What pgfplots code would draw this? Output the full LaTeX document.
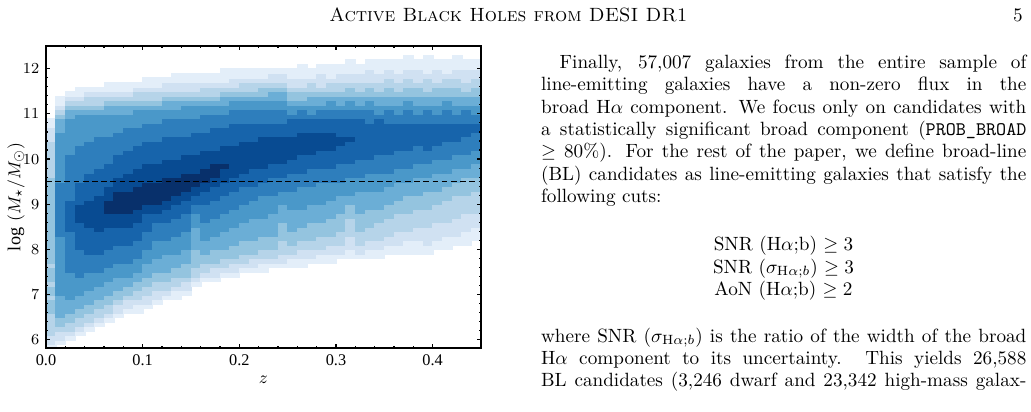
\documentclass[border=0pt]{standalone}
\usepackage{fontspec}
\usepackage{pgfplots}
\usepackage{pgfplotstable}
\pgfplotsset{compat=1.18}
\newfontfamily\plotfont{Liberation Serif}

% Binned counts (colour level 0-10) of line-emitting galaxies.
% One row per redshift bin (centre in column 0, width 0.01);
% columns 1..67 are log M bins of width 0.1 centred at 5.85, 5.95, ..., 12.45.
\pgfplotstableread[header=false]{
0.005  1 2 2 3 3 3 3 3 4 4  4 3 4 4 3 4 4 4 3 4  4 4 4 4 4 4 4 4 4 4  4 4 4 4 4 4 4 4 3 3  3 3 3 3 3 3 2 2 2 1  1 0 0 0 0 0 0 0 0 0  0 0 0 0 0 0 0
0.015  0 1 2 2 3 4 4 5 5 5  5 5 6 6 6 6 6 6 6 6  6 6 6 6 6 7 7 7 7 7  7 7 7 7 7 7 7 6 6 6  6 6 6 6 6 6 6 6 5 5  5 4 3 2 1 1 0 0 0 0  0 0 0 0 0 0 0
0.025  0 0 1 2 3 3 4 4 5 5  5 6 6 6 6 6 6 7 7 7  7 7 7 7 7 7 8 8 8 8  8 8 8 7 7 7 7 7 7 7  7 7 7 6 6 6 6 6 6 6  6 5 5 4 3 2 1 0 0 0  0 0 0 0 0 0 0
0.035  0 0 0 1 2 3 3 4 4 5  5 5 6 6 6 6 7 7 7 7  7 7 8 8 8 8 8 8 9 9  9 9 8 8 8 8 8 7 7 7  7 7 7 7 7 6 6 6 6 6  6 6 5 4 3 2 1 1 0 0  0 0 0 0 0 0 0
0.045  0 0 0 0 1 2 3 3 4 4  5 5 5 6 6 6 6 7 7 7  7 8 8 8 8 8 8 9 9 9  9 9 9 8 8 8 8 8 8 7  7 7 7 7 7 7 6 6 6 6  6 6 5 4 3 3 2 1 0 0  0 0 0 0 0 0 0
0.055  0 0 0 0 0 1 2 3 3 4  4 5 5 5 6 6 6 7 7 7  7 8 8 8 8 8 9 9 9 9  9 9 9 9 8 8 8 8 8 8  7 7 7 7 7 7 7 6 6 6  6 6 5 4 3 3 2 1 0 0  0 0 0 0 0 0 0
0.065  0 0 0 0 0 0 1 2 3 3  4 4 5 5 5 6 6 6 7 7  7 7 8 8 8 8 8 9 9 9  10 10 10 9 9 9 8 8 8 8  8 7 7 7 7 7 7 6 6 6  6 6 5 5 4 3 2 1 1 0  0 0 0 0 0 0 0
0.075  0 0 0 0 0 0 0 1 2 2  3 4 4 5 5 5 6 6 6 7  7 7 7 8 8 8 8 9 9 9  10 10 10 10 10 9 9 9 8 8  8 8 8 7 7 7 7 7 6 6  6 6 5 5 4 3 2 1 1 0  0 0 0 0 0 0 0
0.085  0 0 0 0 0 0 0 0 1 2  2 3 4 4 5 5 6 6 6 7  7 7 7 8 8 8 8 9 9 9  10 10 10 10 10 9 9 9 9 8  8 8 8 8 7 7 7 7 7 6  6 6 5 5 4 3 2 1 1 0  0 0 0 0 0 0 0
0.095  0 0 0 0 0 0 0 0 1 1  2 3 3 4 4 5 5 6 6 6  7 7 7 7 8 8 8 8 9 9  9 10 10 10 10 10 9 9 9 9  8 8 8 8 8 7 7 7 7 6  6 6 6 5 4 3 3 2 1 0  0 0 0 0 0 0 0
0.105  0 0 0 0 0 0 0 0 0 1  2 2 3 3 4 4 5 5 5 6  6 6 7 7 7 7 8 8 8 8  9 9 10 10 10 10 10 9 9 9  9 8 8 8 8 8 7 7 7 7  6 6 6 5 4 3 3 2 1 1  0 0 0 0 0 0 0
0.115  0 0 0 0 0 0 0 0 0 0  1 2 2 3 3 4 4 5 5 5  6 6 6 6 7 7 7 7 8 8  9 9 10 10 10 10 10 9 9 9  9 8 8 8 8 8 7 7 7 7  6 6 6 5 4 3 3 2 1 1  0 0 0 0 0 0 0
0.125  0 0 0 0 0 0 0 0 0 0  0 1 2 3 3 4 4 5 5 5  5 6 6 6 7 7 7 7 8 8  8 9 9 10 10 10 10 10 9 9  9 9 8 8 8 8 8 7 7 7  7 6 6 5 5 4 3 2 2 1  0 0 0 0 0 0 0
0.135  0 0 0 0 0 0 0 0 0 0  0 1 1 2 3 3 4 4 5 5  5 6 6 6 6 7 7 7 7 8  8 8 9 9 10 10 10 10 9 9  9 9 8 8 8 8 8 7 7 7  7 6 6 5 5 4 3 2 2 1  1 0 0 0 0 0 0
0.145  0 0 0 0 0 0 0 0 0 0  0 0 1 2 2 3 4 4 4 5  5 5 6 6 6 6 7 7 7 7  8 8 8 9 9 10 10 10 10 9  9 9 9 8 8 8 8 7 7 7  7 6 6 6 5 4 3 2 2 1  1 0 0 0 0 0 0
0.155  0 0 0 0 0 0 0 0 0 0  0 0 0 0 1 2 3 3 4 4  4 4 5 5 5 5 5 6 6 6  7 7 8 8 9 9 10 10 10 9  9 9 9 8 8 8 8 8 7 7  7 6 6 6 5 4 3 2 2 1  1 0 0 0 0 0 0
0.165  0 0 0 0 0 0 0 0 0 0  0 0 0 0 0 1 2 3 3 4  4 5 5 5 6 6 6 6 7 7  7 7 8 8 8 9 9 10 10 10  9 9 9 9 8 8 8 8 7 7  7 7 6 6 5 4 3 3 2 1  1 0 0 0 0 0 0
0.175  0 0 0 0 0 0 0 0 0 0  0 0 0 0 0 1 2 2 3 4  4 4 5 5 5 6 6 6 6 7  7 7 7 8 8 8 9 9 10 10  10 9 9 9 8 8 8 8 8 7  7 7 6 6 5 4 3 3 2 1  1 0 0 0 0 0 0
0.185  0 0 0 0 0 0 0 0 0 0  0 0 0 0 0 0 1 2 3 3  4 4 5 5 5 5 6 6 6 6  7 7 7 7 8 8 8 9 9 9  10 9 9 9 9 8 8 8 8 7  7 7 6 6 5 5 4 3 2 1  1 1 0 0 0 0 0
0.195  0 0 0 0 0 0 0 0 0 0  0 0 0 0 0 0 1 2 2 3  4 4 4 5 5 5 5 6 6 6  6 7 7 7 7 8 8 8 9 9  9 9 9 9 9 8 8 8 8 8  7 7 7 6 6 5 4 3 2 2  1 1 0 0 0 0 0
0.205  0 0 0 0 0 0 0 0 0 0  0 0 0 0 0 0 0 1 2 3  3 4 4 4 5 5 5 5 6 6  6 6 7 7 7 7 8 8 8 9  9 9 9 9 9 9 8 8 8 8  7 7 7 6 6 5 4 3 3 2  1 1 0 0 0 0 0
0.215  0 0 0 0 0 0 0 0 0 0  0 0 0 0 0 0 0 1 2 2  3 4 4 4 5 5 5 5 5 6  6 6 6 7 7 7 8 8 8 8  9 9 9 9 9 9 8 8 8 8  7 7 7 6 6 5 4 3 3 2  1 1 0 0 0 0 0
0.225  0 0 0 0 0 0 0 0 0 0  0 0 0 0 0 0 0 1 1 2  3 3 4 4 4 5 5 5 5 6  6 6 6 6 7 7 7 8 8 8  9 9 9 9 9 9 9 8 8 8  7 7 7 6 6 5 4 4 3 2  1 1 0 0 0 0 0
0.235  0 0 0 0 0 0 0 0 0 0  0 0 0 0 0 0 0 0 1 2  3 3 4 4 4 5 5 5 5 5  6 6 6 6 7 7 7 7 8 8  8 9 9 9 9 9 9 8 8 8  7 7 7 6 6 5 5 4 3 2  2 1 0 0 0 0 0
0.245  0 0 0 0 0 0 0 0 0 0  0 0 0 0 0 0 0 0 1 2  2 3 3 3 4 4 4 4 5 5  5 5 6 6 6 7 7 7 8 8  8 9 9 9 9 9 9 8 8 8  7 7 7 6 6 5 5 4 3 2  2 1 0 0 0 0 0
0.255  0 0 0 0 0 0 0 0 0 0  0 0 0 0 0 0 0 0 1 1  2 3 3 4 4 4 5 5 5 5  5 6 6 6 6 7 7 7 7 8  8 8 9 9 9 9 9 8 8 8  8 7 6 6 5 4 4 3 2 2  1 1 0 0 0 0 0
0.265  0 0 0 0 0 0 0 0 0 0  0 0 0 0 0 0 0 0 1 1  2 2 3 3 4 4 4 5 5 5  5 6 6 6 6 6 7 7 7 8  8 8 8 9 9 9 9 9 8 8  8 7 7 6 5 4 4 3 2 2  1 1 1 0 0 0 0
0.275  0 0 0 0 0 0 0 0 0 0  0 0 0 0 0 0 0 0 0 1  2 2 3 3 4 4 4 4 5 5  5 5 6 6 6 6 7 7 7 7  8 8 8 9 9 9 9 9 8 8  8 7 6 6 5 5 4 3 3 2  1 1 0 0 0 0 0
0.285  0 0 0 0 0 0 0 0 0 0  0 0 0 0 0 0 0 0 0 1  1 2 3 3 3 4 4 4 5 5  5 5 6 6 6 6 6 7 7 7  8 8 8 8 9 9 9 9 8 8  8 7 7 6 5 5 4 3 2 2  2 1 1 0 0 0 0
0.295  0 0 0 0 0 0 0 0 0 0  0 0 0 0 0 0 0 0 0 1  1 2 2 3 3 4 4 4 4 5  5 5 5 6 6 6 6 7 7 7  8 8 8 8 9 9 9 9 8 8  8 7 7 6 6 5 4 3 3 2  1 1 1 0 0 0 0
0.305  0 0 0 0 0 0 0 0 0 0  0 0 0 0 0 0 0 0 0 0  1 2 2 3 3 3 4 4 4 4  5 5 5 5 6 6 6 7 7 7  7 8 8 8 8 9 9 8 8 8  8 7 7 6 5 5 4 3 3 2  2 1 1 0 0 0 0
0.315  0 0 0 0 0 0 0 0 0 0  0 0 0 0 0 0 0 0 0 0  1 1 2 2 2 3 3 3 3 4  4 4 5 5 6 6 6 6 7 7  7 8 8 8 8 8 9 8 8 8  8 7 7 6 6 5 4 4 3 2  2 1 1 1 0 0 0
0.325  0 0 0 0 0 0 0 0 0 0  0 0 0 0 0 0 0 0 0 0  1 2 2 3 3 3 4 4 4 4  5 5 5 5 5 6 6 6 7 7  7 7 8 8 8 8 8 8 8 8  8 7 7 6 5 5 4 3 3 2  2 1 1 0 0 0 0
0.335  0 0 0 0 0 0 0 0 0 0  0 0 0 0 0 0 0 0 0 0  1 1 2 2 3 3 3 4 4 4  4 5 5 5 5 6 6 6 6 7  7 7 8 8 8 8 8 8 8 8  7 7 7 6 6 5 4 4 3 2  2 2 1 1 0 0 0
0.345  0 0 0 0 0 0 0 0 0 0  0 0 0 0 0 0 0 0 0 0  1 1 2 2 3 3 3 3 4 4  4 5 5 5 5 6 6 6 6 7  7 7 7 8 8 8 8 8 8 8  8 7 6 6 5 5 4 3 3 2  2 1 1 1 0 0 0
0.355  0 0 0 0 0 0 0 0 0 0  0 0 0 0 0 0 0 0 0 0  0 1 1 2 2 3 3 3 3 4  4 4 5 5 5 5 6 6 6 7  7 7 7 8 8 8 8 8 8 8  7 7 7 6 5 5 4 4 3 3  2 2 1 1 0 0 0
0.365  0 0 0 0 0 0 0 0 0 0  0 0 0 0 0 0 0 0 0 0  0 1 1 2 2 2 3 3 3 3  4 4 4 5 5 5 5 6 6 6  7 7 7 7 8 8 8 8 8 8  7 7 6 6 5 5 4 3 3 2  2 1 1 1 0 0 0
0.375  0 0 0 0 0 0 0 0 0 0  0 0 0 0 0 0 0 0 0 0  0 1 1 1 2 2 3 3 3 3  4 4 4 4 5 5 5 6 6 6  7 7 7 7 8 8 8 8 8 8  7 7 7 6 6 5 4 4 3 3  2 2 1 1 1 0 0
0.385  0 0 0 0 0 0 0 0 0 0  0 0 0 0 0 0 0 0 0 0  0 1 1 1 2 2 2 3 3 3  3 4 4 4 5 5 5 5 6 6  6 7 7 7 7 8 8 8 8 8  7 7 6 6 5 5 4 4 3 2  2 2 1 1 0 0 0
0.395  0 0 0 0 0 0 0 0 0 0  0 0 0 0 0 0 0 0 0 0  0 1 1 2 2 2 2 3 3 3  3 4 4 4 4 5 5 5 6 6  6 7 7 7 8 8 8 8 8 8  7 7 7 6 5 5 4 3 3 3  2 1 1 1 1 0 0
0.405  0 0 0 0 0 0 0 0 0 0  0 0 0 0 0 0 0 0 0 0  0 0 1 1 2 2 2 2 3 3  3 3 4 4 4 5 5 5 5 6  6 6 7 7 7 8 8 8 8 8  7 7 6 6 5 5 4 4 3 2  2 2 1 1 0 0 0
0.415  0 0 0 0 0 0 0 0 0 0  0 0 0 0 0 0 0 0 0 0  0 0 1 1 1 2 2 2 3 3  3 3 3 4 4 4 5 5 5 6  6 6 7 7 7 7 8 8 8 8  7 7 7 6 6 5 4 4 3 3  2 1 1 1 0 0 0
0.425  0 0 0 0 0 0 0 0 0 0  0 0 0 0 0 0 0 0 0 0  0 0 0 1 1 2 2 2 2 3  3 3 3 3 4 4 4 5 5 5  6 6 6 7 7 7 8 8 8 8  7 7 6 6 5 5 4 4 3 3  2 2 1 1 1 0 0
0.435  0 0 0 0 0 0 0 0 0 0  0 0 0 0 0 0 0 0 0 0  0 0 0 1 1 1 2 2 2 2  3 3 3 3 4 4 4 4 5 5  6 6 6 7 7 7 7 8 8 8  7 7 7 6 5 5 4 3 3 2  2 2 1 1 0 0 0
0.445  0 0 0 0 0 0 0 0 0 0  0 0 0 0 0 0 0 0 0 0  0 0 0 0 1 1 1 2 2 2  3 3 3 3 3 4 4 4 5 5  5 6 6 6 7 7 7 7 8 8  7 7 6 6 5 5 4 4 3 3  2 2 1 1 0 0 0
}\densitytable

\begin{document}
\begin{tikzpicture}
% page area of the figure and its neighbouring text column
\path[use as bounding box] (-23.99pt,-32.86pt) rectangle (513.78pt,181.52pt);

\begin{axis}[
  scale only axis,
  width=226.9pt, height=157.5pt,
  xmin=0, xmax=0.45,
  ymin=5.82, ymax=12.5,
  axis on top,
  clip marker paths=true,
  axis line style={line width=0.9pt},
  tick align=inside,
  major tick length=2.1pt,
  minor tick length=1.2pt,
  every tick/.style={black, line width=0.6pt},
  xtick={0,0.1,0.2,0.3,0.4},
  xticklabels={0.0,0.1,0.2,0.3,0.4},
  ytick={6,7,8,9,10,11,12},
  minor x tick num=4,
  minor y tick num=4,
  tick label style={font=\plotfont\fontsize{8.5}{9}\selectfont},
  xlabel={$z$},
  ylabel={{\plotfont log} $(M_\star/M_\odot)$},
  label style={font=\fontsize{9.5}{10}\selectfont},
  xlabel style={at={(axis description cs:0.5,-0.106)}, anchor=center},
  ylabel style={at={(axis description cs:-0.069,0.5)}, anchor=center},
  colormap={blues}{rgb255=(247,251,255) rgb255=(222,235,247) rgb255=(198,219,239)
    rgb255=(158,202,225) rgb255=(107,174,214) rgb255=(66,146,198)
    rgb255=(33,113,181) rgb255=(8,81,156) rgb255=(8,48,107)},
  point meta min=0, point meta max=10,
]
% one scatter series per mass bin, each cell drawn as a filled rectangle
\pgfplotsinvokeforeach{1,...,67}{
  \addplot[scatter, only marks, mark=square*, mark size=1pt,
    mark options={xscale=2.56, yscale=1.21, line width=0.15pt},
    scatter/use mapped color={draw=mapped color, fill=mapped color},
    restrict x to domain=0:1,
    point meta=explicit]
    table[x expr={\thisrowno{#1}>0 ? \thisrowno{0} : -1},
          y expr={5.75+0.1*#1}, meta index=#1] {\densitytable};
}
% dwarf / high-mass dividing line
\addplot[black, line width=0.7pt, dash pattern=on 3pt off 1.8pt]
  coordinates {(0,9.5) (0.45,9.5)};
\end{axis}

% running head
\node[anchor=base, inner sep=0] at (241.24pt,170.20pt) {\textsc{Active Black Holes from DESI DR1}};
\node[anchor=base east, inner sep=0] at (509.60pt,170.20pt) {5};

% text column
\node[anchor=base west, inner sep=0] at (267.74pt,145.89pt) {\makebox[243.43pt][s]{Finally, 57,007 galaxies from the entire sample of}};
\node[anchor=base west, inner sep=0] at (258.04pt,134.21pt) {\makebox[253.13pt][s]{line-emitting galaxies have a non-zero flux in the}};
\node[anchor=base west, inner sep=0] at (258.04pt,122.52pt) {\makebox[253.13pt][s]{broad H$\alpha$ component. We focus only on candidates with}};
\node[anchor=base west, inner sep=0] at (258.04pt,110.84pt) {\makebox[253.13pt][s]{a statistically significant broad component (\texttt{PROB\_BROAD}}};
\node[anchor=base west, inner sep=0] at (258.04pt,99.16pt) {\makebox[253.13pt][s]{$\geq 80\%$). For the rest of the paper, we define broad-line}};
\node[anchor=base west, inner sep=0] at (258.04pt,87.47pt) {\makebox[253.13pt][s]{(BL) candidates as line-emitting galaxies that satisfy the}};
\node[anchor=base west, inner sep=0] at (258.04pt,75.79pt) {following cuts:};

\node[anchor=base, inner sep=0] at (384.68pt,50.86pt) {SNR (H$\alpha$;b) $\geq 3$};
\node[anchor=base, inner sep=0] at (384.68pt,39.12pt) {SNR ($\sigma_{\mathrm{H}\alpha;b}$) $\geq 3$};
\node[anchor=base, inner sep=0] at (384.68pt,27.38pt) {AoN (H$\alpha$;b) $\geq 2$};

\node[anchor=base west, inner sep=0] at (258.04pt,3.13pt) {\makebox[253.13pt][s]{where SNR ($\sigma_{\mathrm{H}\alpha;b}$) is the ratio of the width of the broad}};
\node[anchor=base west, inner sep=0] at (258.04pt,-8.55pt) {\makebox[253.13pt][s]{H$\alpha$ component to its uncertainty. This yields 26,588}};
\node[anchor=base west, inner sep=0] at (258.04pt,-20.24pt) {\makebox[253.13pt][s]{BL candidates (3,246 dwarf and 23,342 high-mass galax-}};
\end{tikzpicture}
\end{document}
